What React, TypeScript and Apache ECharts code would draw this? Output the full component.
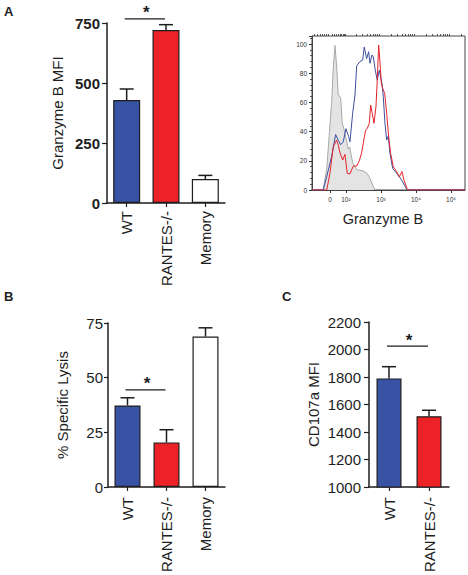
import React, { useEffect, useRef } from "react";
import * as echarts from "echarts";

// ---------- Data ----------
const catsA = ["WT", "RANTES-/-", "Memory"];
const granzymeMean = [429, 721, 100];
const granzymeErr = [46, 22, 15];
const sigA = 767;

const catsB = ["WT", "RANTES-/-", "Memory"];
const lysisMean = [37.3, 20.4, 68.8];
const lysisErr = [3.5, 5.8, 4.0];
const sigB = 44.4;

const catsC = ["WT", "RANTES-/-"];
const cd107Mean = [1790, 1515];
const cd107Err = [85, 43];
const sigC = 2024;

// Histogram (x in display decades of a biexponential scale, y = % of max)
const grayX = [1.343, 1.449, 1.591, 1.637, 1.686, 1.734, 1.78, 1.849, 1.894, 1.971, 2.066, 2.106, 2.191, 2.306, 2.494, 2.6, 2.686, 2.77, 2.83];
const grayY = [0, 14, 60, 83, 99, 85, 65.5, 63, 46, 39, 28, 29.5, 18.7, 14, 13, 11.5, 8, 3, 0];
const blueX = [1.03, 1.35, 1.449, 1.591, 1.706, 1.78, 1.849, 1.923, 2.0, 2.077, 2.114, 2.191, 2.257, 2.306, 2.4, 2.477, 2.523, 2.591, 2.649, 2.686, 2.743, 2.78, 2.837, 2.894, 2.951, 3.029, 3.066, 3.114, 3.163, 3.209, 3.257, 3.334, 3.449, 3.591, 3.734, 3.77, 5.4];
const blueY = [0, 0, 9, 23, 38, 34, 31, 33, 42, 36.5, 33, 52.5, 65, 85, 88, 89, 98, 90, 94.7, 86.8, 92.5, 91.3, 82, 75.3, 82, 73, 64, 45.7, 34.2, 37, 25, 14.8, 11.4, 6.8, 0.5, 0, 0];
const redX = [1.03, 1.45, 1.543, 1.637, 1.734, 1.78, 1.829, 1.906, 1.971, 2.037, 2.114, 2.209, 2.306, 2.38, 2.449, 2.514, 2.563, 2.609, 2.666, 2.706, 2.751, 2.8, 2.857, 2.894, 2.934, 2.971, 3.009, 3.049, 3.106, 3.163, 3.22, 3.277, 3.351, 3.449, 3.523, 3.6, 3.657, 3.751, 3.78, 5.4];
const redY = [0, 0, 11.4, 29.7, 34.2, 30.8, 25.6, 20.5, 24.4, 11.4, 11, 16.4, 16.4, 19.9, 25.6, 35, 41, 42.2, 45.7, 58.2, 52.5, 45.7, 57, 75.3, 99.3, 87.9, 73, 69.6, 66.2, 52.5, 36.5, 25, 16, 12.6, 9.1, 12.6, 6.8, 0.5, 0, 0];

const histMajorTicks = [1.543, 2, 3, 4, 5];
const histMajorLabels = ["0", "10²", "10³", "10⁴", "10⁵"];
const histMinorTicks = [
  1.1, 1.18, 1.26, 1.33, 1.39, 1.44, 1.48, 1.6, 1.66, 1.72, 1.78, 1.83, 1.87, 1.91, 1.94, 1.97,
  2.301, 2.477, 2.602, 2.699, 2.778, 2.845, 2.903, 2.954,
  3.301, 3.477, 3.602, 3.699, 3.778, 3.845, 3.903, 3.954,
  4.301, 4.477, 4.602, 4.699, 4.778, 4.845, 4.903, 4.954,
  5.301,
];

// ---------- Style ----------
const BLUE = "#3953a4";
const RED = "#ec2227";
const WHITE = "#ffffff";
const INK = "#1e1e1e";
const FONT = "'Liberation Sans', Arial, sans-serif";

const pair = (xs: number[], ys: number[]) => xs.map((x, i) => [x, ys[i]]);

function errorSeries(means: number[], errs: number[], xi: number, yi: number) {
  return {
    type: "custom",
    xAxisIndex: xi,
    yAxisIndex: yi,
    z: 3,
    encode: { x: 0, y: 1 },
    data: means.map((m, i) => [i, m, errs[i]]),
    renderItem: (params: any, api: any) => {
      const base = api.coord([api.value(0), api.value(1)]);
      const top = api.coord([api.value(0), api.value(1) + api.value(2)]);
      const half = 7;
      return {
        type: "group",
        children: [
          { type: "line", shape: { x1: base[0], y1: base[1], x2: top[0], y2: top[1] }, style: { stroke: INK, lineWidth: 1.5 } },
          { type: "line", shape: { x1: top[0] - half, y1: top[1], x2: top[0] + half, y2: top[1] }, style: { stroke: INK, lineWidth: 1.5 } },
        ],
      };
    },
  };
}

function sigSeries(level: number, xi: number, yi: number) {
  return {
    type: "custom",
    xAxisIndex: xi,
    yAxisIndex: yi,
    z: 3,
    encode: { x: [0, 1], y: 2 },
    data: [[0, 1, level]],
    renderItem: (params: any, api: any) => {
      const p1 = api.coord([api.value(0), api.value(2)]);
      const p2 = api.coord([api.value(1), api.value(2)]);
      return {
        type: "group",
        children: [
          { type: "line", shape: { x1: p1[0] - 2, y1: p1[1], x2: p2[0] - 1, y2: p2[1] }, style: { stroke: INK, lineWidth: 1.2 } },
          {
            type: "text",
            style: {
              text: "*",
              x: (p1[0] + p2[0]) / 2,
              y: p1[1] - 6,
              align: "center",
              verticalAlign: "middle",
              font: `bold 17px ${FONT}`,
              fill: INK,
            },
          },
        ],
      };
    },
  };
}

function barSeries(means: number[], colors: string[], xi: number, yi: number, width: number) {
  return {
    type: "bar",
    xAxisIndex: xi,
    yAxisIndex: yi,
    barWidth: width,
    z: 2,
    data: means.map((v, i) => ({
      value: v,
      itemStyle: { color: colors[i], borderColor: INK, borderWidth: 1.2 },
    })),
  };
}

function catAxis(cats: string[], gi: number, margin: number) {
  return {
    type: "category",
    gridIndex: gi,
    data: cats,
    axisLine: { show: true, lineStyle: { color: INK, width: 1.5 } },
    axisTick: { show: true, alignWithLabel: true, length: 4, lineStyle: { color: INK, width: 1.2 } },
    axisLabel: { rotate: 90, margin, fontSize: 15, color: INK, fontFamily: FONT },
    splitLine: { show: false },
  };
}

function valAxis(gi: number, min: number, max: number, interval: number, name: string, nameGap: number, bold: boolean, margin: number, tickLen: number) {
  return {
    type: "value",
    gridIndex: gi,
    min,
    max,
    interval,
    name,
    nameLocation: "middle",
    nameRotate: 90,
    nameGap,
    nameTextStyle: { fontSize: 15, color: INK, fontFamily: FONT },
    axisLine: { show: true, lineStyle: { color: INK, width: 1.5 } },
    axisTick: { show: true, length: tickLen, lineStyle: { color: INK, width: 1.2 } },
    axisLabel: {
      fontSize: 15,
      fontWeight: bold ? "bold" : "normal",
      color: INK,
      margin,
      fontFamily: FONT,
      formatter: (v: number) => String(v),
    },
    splitLine: { show: false },
  };
}

export default function App() {
  const ref = useRef<HTMLDivElement>(null);
  useEffect(() => {
    if (!ref.current) return;
    const chart = echarts.init(ref.current, undefined, { renderer: "svg" });
    const option: any = {
      animation: false,
      backgroundColor: "#ffffff",
      textStyle: { fontFamily: FONT },
      grid: [
        { left: 107, top: 23, width: 118, height: 180 },
        { left: 312, top: 36, width: 153, height: 154, show: true, borderColor: "#444", borderWidth: 1, backgroundColor: "transparent" },
        { left: 108, top: 323, width: 117, height: 169 },
        { left: 369, top: 322, width: 80, height: 170 },
      ],
      xAxis: [
        catAxis(catsA, 0, 8),
        {
          type: "value",
          gridIndex: 1,
          min: 1.03,
          max: 5.4,
          name: "Granzyme B",
          nameLocation: "middle",
          nameGap: 21,
          nameTextStyle: { fontSize: 14.5, color: INK, fontFamily: FONT, padding: [0, 11, 0, 0] },
          axisLine: { show: true, lineStyle: { color: "#444", width: 1 } },
          axisTick: { show: true, length: 3, customValues: histMajorTicks, lineStyle: { color: "#333", width: 1 } },
          axisLabel: {
            customValues: histMajorTicks,
            fontSize: 6.5,
            color: "#333",
            margin: 6,
            formatter: (v: number) => {
              const i = histMajorTicks.findIndex((t) => Math.abs(t - v) < 1e-6);
              return i >= 0 ? histMajorLabels[i] : "";
            },
          },
          splitLine: { show: false },
        },
        {
          type: "value",
          gridIndex: 1,
          min: 1.03,
          max: 5.4,
          axisLine: { show: false },
          axisTick: { show: true, length: 2, customValues: histMinorTicks, lineStyle: { color: "#333", width: 0.8 } },
          axisLabel: { show: false },
          splitLine: { show: false },
        },
        catAxis(catsB, 2, 10),
        catAxis(catsC, 3, 10),
      ],
      yAxis: [
        valAxis(0, 0, 750, 250, "Granzyme B MFI", 42, true, 7, 5),
        {
          type: "value",
          gridIndex: 1,
          min: 0,
          max: 105.5,
          interval: 20,
          axisLine: { show: true, lineStyle: { color: "#444", width: 1 } },
          axisTick: { show: true, length: 3, lineStyle: { color: "#333", width: 1 } },
          minorTick: { show: true, splitNumber: 5, length: 2, lineStyle: { color: "#333", width: 0.8 } },
          axisLabel: { fontSize: 6.5, color: "#333", margin: 5, showMaxLabel: false },
          splitLine: { show: false },
        },
        valAxis(2, 0, 75, 25, "% Specific Lysis", 38, false, 5, 4),
        valAxis(3, 1000, 2200, 200, "CD107a MFI", 48, false, 8, 5),
      ],
      series: [
        barSeries(granzymeMean, [BLUE, RED, WHITE], 0, 0, 27),
        errorSeries(granzymeMean, granzymeErr, 0, 0),
        sigSeries(sigA, 0, 0),
        {
          type: "line",
          xAxisIndex: 1,
          yAxisIndex: 1,
          data: pair(grayX, grayY),
          symbol: "none",
          lineStyle: { color: "#a8a8a8", width: 1 },
          areaStyle: { color: "#e4e4e4", opacity: 1 },
          z: 1,
        },
        {
          type: "line",
          xAxisIndex: 1,
          yAxisIndex: 1,
          data: pair(blueX, blueY),
          symbol: "none",
          lineStyle: { color: "#3c4f9e", width: 1 },
          z: 2,
        },
        {
          type: "line",
          xAxisIndex: 1,
          yAxisIndex: 1,
          data: pair(redX, redY),
          symbol: "none",
          lineStyle: { color: "#e3242b", width: 1 },
          z: 3,
        },
        barSeries(lysisMean, [BLUE, RED, WHITE], 3, 2, 26),
        errorSeries(lysisMean, lysisErr, 3, 2),
        sigSeries(sigB, 3, 2),
        barSeries(cd107Mean, [BLUE, RED], 4, 3, 25),
        errorSeries(cd107Mean, cd107Err, 4, 3),
        sigSeries(sigC, 4, 3),
      ],
      graphic: [
        { type: "text", left: 4, top: 5, style: { text: "A", font: `bold 13px ${FONT}`, fill: INK } },
        { type: "text", left: 4, top: 290, style: { text: "B", font: `bold 13px ${FONT}`, fill: INK } },
        { type: "text", left: 282, top: 290, style: { text: "C", font: `bold 13px ${FONT}`, fill: INK } },
      ],
    };
    chart.setOption(option);
    return () => chart.dispose();
  }, []);
  return (
    <div
      ref={ref}
      style={{ position: "fixed", left: 0, top: 0, width: 468, height: 575, background: "#fff" }}
    />
  );
}
